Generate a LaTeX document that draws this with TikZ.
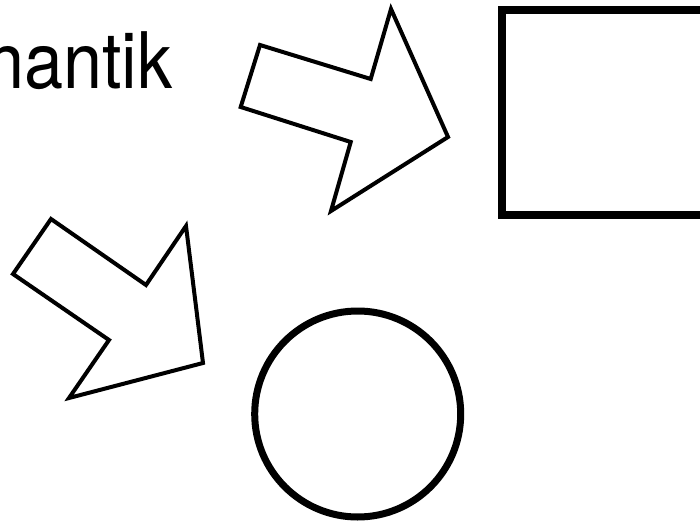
\documentclass[tikz,border=0pt]{standalone}
\usepackage{fontspec}
\setmainfont{TeX Gyre Heros}
\begin{document}
\begin{tikzpicture}[x=1pt,y=-1pt,
  blockarrow/.style={draw=black,line width=4pt,line join=miter,fill=white},
  labeltext/.style={anchor=base west,inner sep=0pt,xscale=0.9,transform shape,font=\fontsize{78}{78}\selectfont}]
\useasboundingbox (0,0) rectangle (700,521);
\clip (0,0) rectangle (700,521);
\node[labeltext] (label) at (-15,89) {nantik};
\draw[blockarrow] (260,45) -- (370.7,79) -- (391,9) -- (448,137) -- (331,211) -- (350.7,142) -- (240.7,107) -- cycle;
\draw[blockarrow] (51,219) -- (146,285) -- (186,226) -- (203,363) -- (69,398) -- (109,340) -- (13,274) -- cycle;
\draw[line width=8pt] (501.7,10) rectangle (720,215.3);
\draw[line width=7pt] (357.7,414) circle[radius=103pt];
\end{tikzpicture}
\end{document}
